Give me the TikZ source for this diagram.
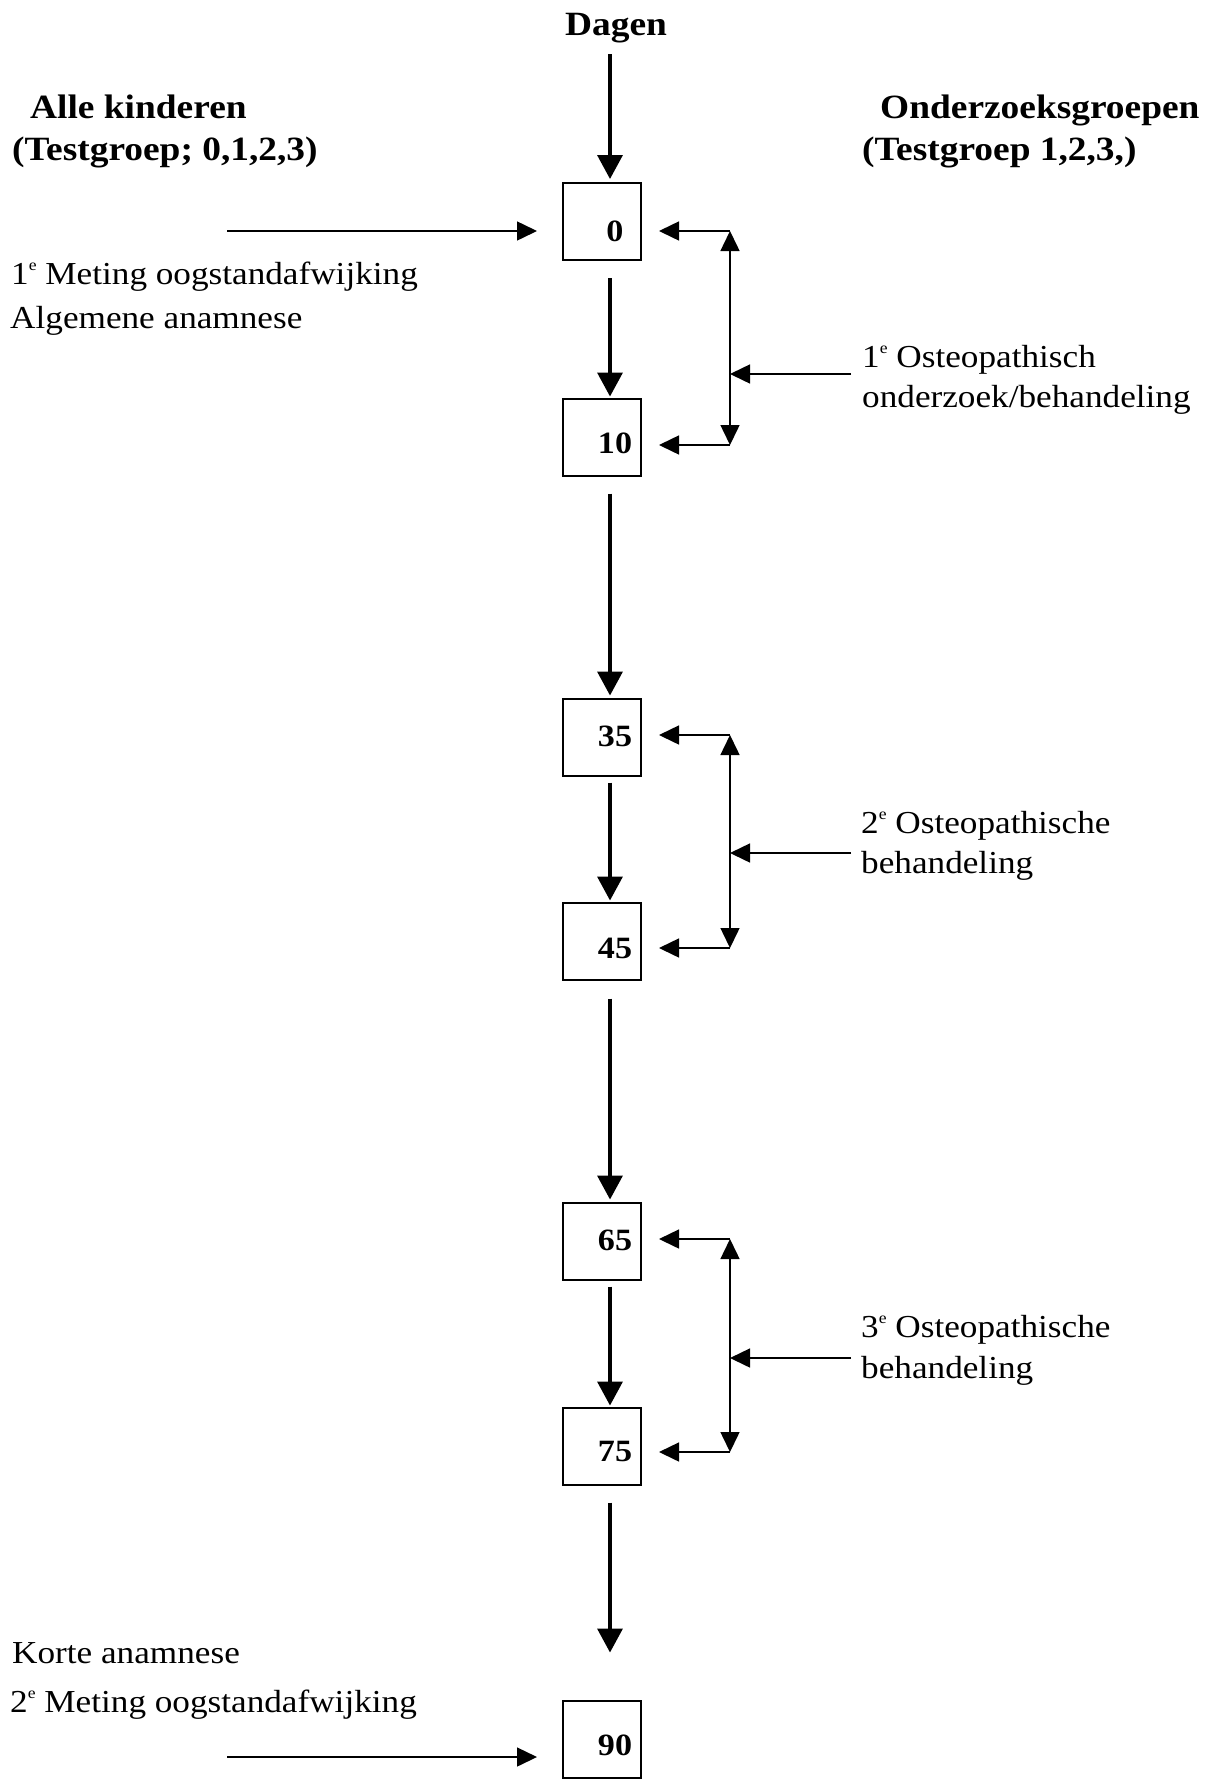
\documentclass[tikz,border=0pt]{standalone}
\usepackage{fontspec}
\setmainfont{Liberation Serif}[FakeStretch=1.1]
\usetikzlibrary{arrows.meta,calc}
\newcommand\ordsup[1]{\raisebox{0.42em}{\fontsize{16}{16}\selectfont #1}}
\begin{document}
\begin{tikzpicture}[x=1pt,y=-1pt,
  txt/.style={font=\fontsize{32}{36}\selectfont, inner sep=0pt, anchor=base west},
  btxt/.style={font=\fontsize{34}{38}\selectfont\bfseries, inner sep=0pt, anchor=base west},
  box/.style={draw, line width=2pt, minimum width=78pt, minimum height=77pt, inner sep=0pt},
  num/.style={font=\fontsize{31}{34}\selectfont\bfseries, inner sep=0pt},
  bigarr/.style={line width=3.5pt, -{Triangle[width=25pt,length=24pt]}},
  thinarr/.style={line width=1.5pt, -{Triangle[width=19pt,length=20pt]}},
  thinboth/.style={line width=1.5pt, {Triangle[width=19pt,length=20pt]}-{Triangle[width=19pt,length=20pt]}}]
\useasboundingbox (0,0) rectangle (1220,1780);

% headers
\node[btxt, anchor=base] (dagen) at (616,35) {Dagen};
\node[btxt] (alle) at (30,118) {Alle kinderen};
\node[btxt] (alle2) at (12,160) {(Testgroep; 0,1,2,3)};
\node[btxt] (ond) at (880,118) {Onderzoeksgroepen};
\node[btxt] (ond2) at (862,160) {(Testgroep 1,2,3,)};

% left labels
\node[txt] (m1) at (11,284) {1\ordsup{e} Meting oogstandafwijking};
\node[txt] (alg) at (10,328) {Algemene anamnese};
\node[txt] (korte) at (12,1663) {Korte anamnese};
\node[txt] (m2) at (10,1712) {2\ordsup{e} Meting oogstandafwijking};

% right labels
\node[txt] (o1a) at (862,367) {1\ordsup{e} Osteopathisch};
\node[txt] (o1b) at (862,407) {onderzoek/behandeling};
\node[txt] (o2a) at (861,833) {2\ordsup{e} Osteopathische};
\node[txt] (o2b) at (861,873) {behandeling};
\node[txt] (o3a) at (861,1337) {3\ordsup{e} Osteopathische};
\node[txt] (o3b) at (861,1378) {behandeling};

% boxes
\node[box] (b0) at (602,221.5) {};
\node[box] (b10) at (602,437) {};
\node[box] (b35) at (602,737) {};
\node[box] (b45) at (602,941) {};
\node[box] (b65) at (602,1241) {};
\node[box] (b75) at (602,1446) {};
\node[box] (b90) at (602,1739) {};

\node[num] (n0) at (615,231) {0};
\node[num] (n10) at (615,443) {10};
\node[num] (n35) at (615,736) {35};
\node[num] (n45) at (615,948) {45};
\node[num] (n65) at (615,1240) {65};
\node[num] (n75) at (615,1451) {75};
\node[num] (n90) at (615,1745) {90};

% main time line
\coordinate (d0) at (610,54);
\draw[bigarr] (d0) -- ($(b0.north)+(8,-3)$);
\draw[bigarr] ($(b0.south)+(8,17)$) -- ($(b10.north)+(8,-1)$);
\draw[bigarr] ($(b10.south)+(8,17)$) -- ($(b35.north)+(8,-2)$);
\draw[bigarr] ($(b35.south)+(8,6)$) -- ($(b45.north)+(8,-1)$);
\draw[bigarr] ($(b45.south)+(8,18)$) -- ($(b65.north)+(8,-2)$);
\draw[bigarr] ($(b65.south)+(8,6)$) -- ($(b75.north)+(8,-1)$);
\draw[bigarr] ($(b75.south)+(8,17)$) -- ($(b90.north)+(8,-47)$);

% left arrows
\coordinate (l0) at (227,231);
\draw[thinarr] (l0) -- ($(b0.west |- n0)+(-25,0)$);
\coordinate (l90) at (227,1757);
\draw[thinarr] (l90) -- ($(b90.west |- l90)+(-25,0)$);

% feedback group 1
\coordinate (g1t) at (730,231);
\coordinate (g1b) at (730,445);
\coordinate (s1) at (851,374);
\draw[thinboth] (g1t) -- (g1b);
\draw[thinarr] (g1t) -- ($(b0.east |- g1t)+(17,0)$);
\draw[thinarr] (g1b) -- ($(b10.east |- g1b)+(17,0)$);
\draw[thinarr] (s1) -- (g1t |- s1);

% feedback group 2
\coordinate (g2t) at (730,735);
\coordinate (g2b) at (730,948);
\coordinate (s2) at (851,853);
\draw[thinboth] (g2t) -- (g2b);
\draw[thinarr] (g2t) -- ($(b35.east |- g2t)+(17,0)$);
\draw[thinarr] (g2b) -- ($(b45.east |- g2b)+(17,0)$);
\draw[thinarr] (s2) -- (g2t |- s2);

% feedback group 3
\coordinate (g3t) at (730,1239);
\coordinate (g3b) at (730,1452);
\coordinate (s3) at (851,1358);
\draw[thinboth] (g3t) -- (g3b);
\draw[thinarr] (g3t) -- ($(b65.east |- g3t)+(17,0)$);
\draw[thinarr] (g3b) -- ($(b75.east |- g3b)+(17,0)$);
\draw[thinarr] (s3) -- (g3t |- s3);
\end{tikzpicture}
\end{document}
